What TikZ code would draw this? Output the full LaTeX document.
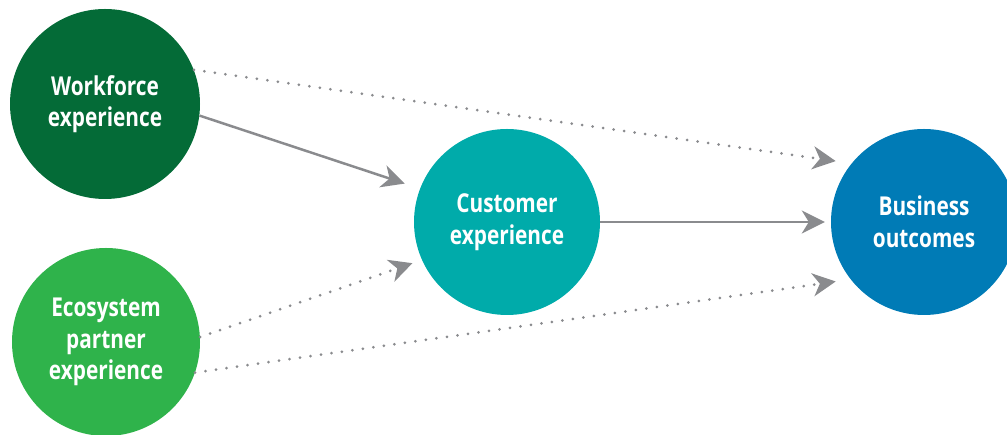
\documentclass[tikz,border=0pt]{standalone}
\usepackage{fontspec}
\setmainfont{Open Sans}[FakeStretch=0.80]
\usetikzlibrary{arrows.meta}
\definecolor{wfgreen}{HTML}{046B37}
\definecolor{ecogreen}{HTML}{2FB34B}
\definecolor{custteal}{HTML}{00ABAA}
\definecolor{busblue}{HTML}{007BB6}
\definecolor{arrowgray}{HTML}{8A8B8E}
\tikzset{
  bubble/.style={circle, inner sep=0pt, text=white, align=center,
    font=\fontsize{26}{31.5}\selectfont\bfseries},
  solidarrow/.style={draw=arrowgray, line width=2.5pt,
    -{Stealth[length=23pt,width=23pt,inset=7pt]}},
  dotarrow/.style={draw=arrowgray, line width=3pt, line cap=round,
    dash pattern=on 0pt off 10.6pt,
    -{Stealth[length=23pt,width=23pt,inset=7pt]}}
}
\begin{document}
\begin{tikzpicture}[x=1pt,y=1pt]
\useasboundingbox (0,0) rectangle (1007,435);
\clip (0,0) rectangle (1007,435);
\node[bubble, fill=wfgreen, minimum size=190pt] (wf) at (105,331) {Workforce\\experience};
\node[bubble, fill=ecogreen, minimum size=188pt] (eco) at (106,93) {Ecosystem\\partner\\experience};
\node[bubble, fill=custteal, minimum size=186pt] (cx) at (507,213) {Customer\\experience};
\node[bubble, fill=busblue, minimum size=186pt] (bo) at (924,213) {Business\\outcomes};
\draw[solidarrow, shorten >=16pt] (wf.-7) -- (cx.159);
\draw[dotarrow, shorten >=16pt] (wf.21) -- (bo.141);
\draw[solidarrow, shorten >=6pt] (cx.0) -- (bo.180);
\draw[dotarrow, shorten >=10pt] (eco.3) -- (cx.204);
\draw[dotarrow, shorten >=15pt] (eco.-19) -- (bo.218);
\end{tikzpicture}
\end{document}
